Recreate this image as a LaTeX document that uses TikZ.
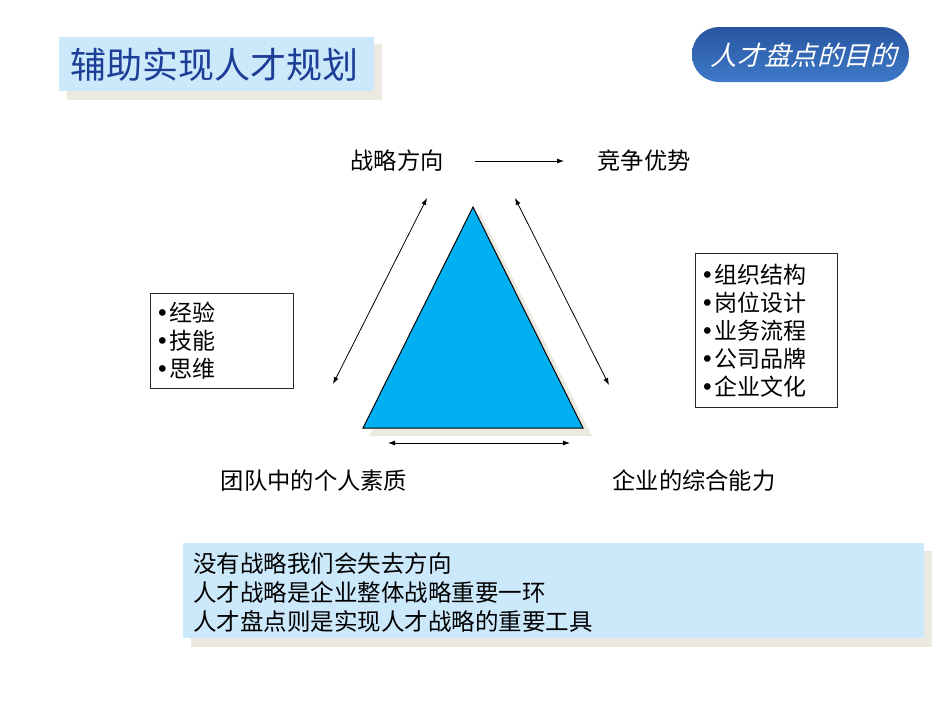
\documentclass[tikz,border=0pt]{standalone}
\usepackage{fontspec}
\setmainfont{Noto Sans CJK SC}
\newfontfamily\cjkit[FakeSlant=0.25]{Noto Sans CJK SC}
\newfontfamily\dvfont{DejaVu Sans}
\newcommand\bul{{\dvfont •}}
\usetikzlibrary{arrows.meta,calc}
\definecolor{lightbox}{RGB}{204,232,251}
\definecolor{shadowc}{RGB}{236,234,224}
\definecolor{titleblue}{RGB}{28,62,150}
\definecolor{tricyan}{RGB}{0,176,240}
\definecolor{pilltop}{RGB}{40,85,160}
\definecolor{pillbot}{RGB}{62,122,200}
\definecolor{boxline}{RGB}{40,40,40}
\tikzset{
  lbl/.style={font=\fontsize{23.3}{26}\selectfont, inner sep=0pt, text=black},
  listbox/.style={draw=boxline, line width=1.1pt, fill=white, align=left,
     font=\fontsize{23}{28}\selectfont, inner xsep=5pt, inner ysep=0pt, anchor=north west},
  conn/.style={line width=0.8pt, {Latex[length=7pt,width=5pt]}-{Latex[length=7pt,width=5pt]}},
  conn1/.style={line width=0.8pt, -{Latex[length=7pt,width=5pt]}},
}
\begin{document}
\begin{tikzpicture}[x=1pt,y=-1pt]
\useasboundingbox[fill=white] (0,0) rectangle (950,713);
% title
\fill[shadowc] (67,44) rectangle (382,100);
\fill[lightbox] (59,37) rectangle (374,91);
\node[anchor=west, inner sep=0pt, text=titleblue, font=\fontsize{36}{40}\selectfont] (title) at (70,65) {辅助实现人才规划};
% pill
\shade[top color=pilltop, bottom color=pillbot, rounded corners=27pt] (692,27) rectangle (909,82);
\node[anchor=center, inner sep=0pt, text=white, font=\cjkit\fontsize{26.6}{30}\selectfont] (pill) at (804,55) {人才盘点的目的};
% top labels
\node[lbl] (sd) at (397,161) {战略方向};
\node[lbl] (jz) at (644,161) {竞争优势};
\coordinate (ta1) at (475,161);
\coordinate (ta2) at (564,161);
\draw[conn1] (ta1) -- (ta2);
% triangle
\coordinate (A) at (473,207);
\coordinate (B) at (363,428);
\coordinate (C) at (583,428);
\fill[shadowc] ($(A)+(7,6)$) -- ($(B)+(6,8)$) -- ($(C)+(9,8)$) -- cycle;
\filldraw[fill=tricyan, draw=black, line width=1pt, line join=miter] (A) -- (B) -- (C) -- cycle;
% arrows around triangle
\coordinate (l1) at (427,198);
\coordinate (l2) at (333,384);
\coordinate (r1) at (515,198);
\coordinate (r2) at (609,385);
\coordinate (b1) at (388,443);
\coordinate (b2) at (570,443);
\draw[conn] (l1) -- (l2);
\draw[conn] (r1) -- (r2);
\draw[conn] (b1) -- (b2);
% bottom labels
\node[lbl] (td) at (314,481) {团队中的个人素质};
\node[lbl] (qy) at (694,481) {企业的综合能力};
% list boxes
\node[listbox, minimum width=143pt, minimum height=95pt, text width=133pt] (lb) at (150,293) {\bul 经验\\\bul 技能\\\bul 思维};
\node[listbox, minimum width=142pt, minimum height=154pt, text width=132pt] (rb) at (695,253) {\bul 组织结构\\\bul 岗位设计\\\bul 业务流程\\\bul 公司品牌\\\bul 企业文化};
% bottom box
\fill[shadowc] (191,551) rectangle (932,647);
\fill[lightbox] (183,543) rectangle (924,638);
\node[anchor=west, text width=725pt, align=left, inner sep=0pt, font=\fontsize{23.5}{29}\selectfont] (bb) at (193,593) {没有战略我们会失去方向\\人才战略是企业整体战略重要一环\\人才盘点则是实现人才战略的重要工具};
\end{tikzpicture}
\end{document}
